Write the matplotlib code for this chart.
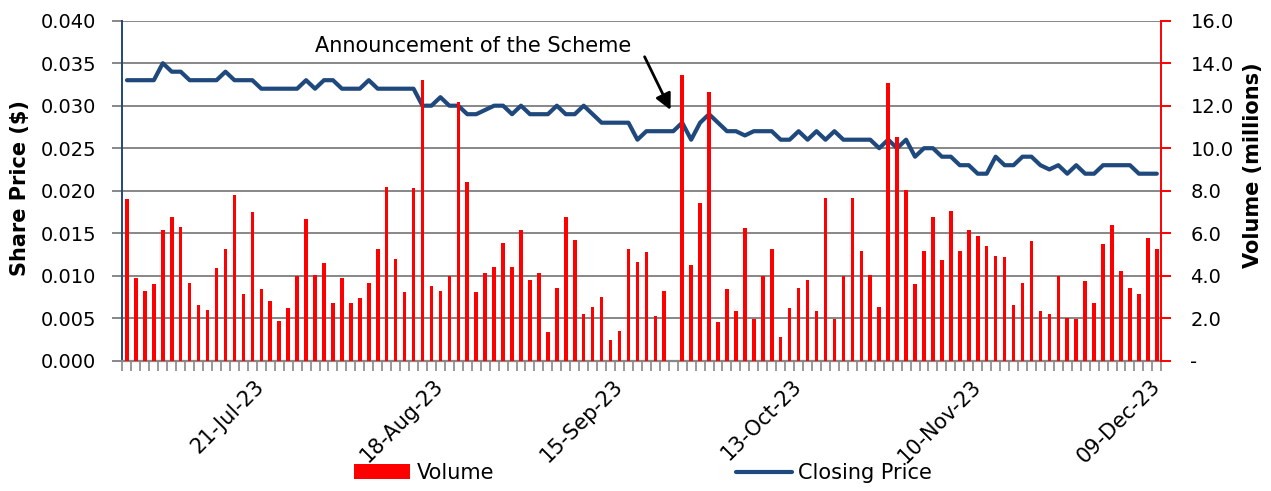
import matplotlib
matplotlib.use("Agg")
import matplotlib.pyplot as plt
from matplotlib.ticker import FuncFormatter, FixedLocator
import numpy as np

# ---- data (trading days, category axis) ----
volume_millions = [
    7.59, 3.90, 3.30, 3.61, 6.15, 6.76, 6.31, 3.68, 2.63, 2.39,
    4.35, 5.26, 7.81, 3.16, 6.98, 3.38, 2.79, 1.88, 2.47, 3.97,
    6.68, 4.05, 4.59, 2.71, 3.90, 2.71, 2.93, 3.68, 5.26, 8.18,
    4.80, 3.24, 8.11, 13.22, 3.52, 3.30, 3.97, 12.18, 8.42, 3.24,
    4.13, 4.43, 5.56, 4.43, 6.15, 3.82, 4.13, 1.35, 3.44, 6.76,
    5.70, 2.18, 2.55, 3.00, 0.99, 1.42, 5.26, 4.65, 5.10, 2.10,
    3.30, 0.00, 13.44, 4.51, 7.43, 12.63, 1.80, 3.38, 2.33, 6.24,
    1.96, 3.97, 5.26, 1.13, 2.47, 3.44, 3.82, 2.33, 7.65, 1.96,
    3.97, 7.65, 5.18, 4.05, 2.55, 13.07, 10.52, 8.04, 3.60, 5.18,
    6.76, 4.73, 7.06, 5.18, 6.15, 5.85, 5.40, 4.95, 4.88, 2.63,
    3.68, 5.63, 2.33, 2.18, 3.97, 2.03, 1.96, 3.76, 2.71, 5.48,
    6.38, 4.21, 3.44, 3.16, 5.77, 5.26,
]

closing_price = [
    0.033, 0.033, 0.033, 0.033, 0.035, 0.034, 0.034, 0.033, 0.033, 0.033,
    0.033, 0.034, 0.033, 0.033, 0.033, 0.032, 0.032, 0.032, 0.032, 0.032,
    0.033, 0.032, 0.033, 0.033, 0.032, 0.032, 0.032, 0.033, 0.032, 0.032,
    0.032, 0.032, 0.032, 0.030, 0.030, 0.031, 0.030, 0.030, 0.029, 0.029,
    0.0295, 0.030, 0.030, 0.029, 0.030, 0.029, 0.029, 0.029, 0.030, 0.029,
    0.029, 0.030, 0.029, 0.028, 0.028, 0.028, 0.028, 0.026, 0.027, 0.027,
    0.027, 0.027, 0.028, 0.026, 0.028, 0.029, 0.028, 0.027, 0.027, 0.0265,
    0.027, 0.027, 0.027, 0.026, 0.026, 0.027, 0.026, 0.027, 0.026, 0.027,
    0.026, 0.026, 0.026, 0.026, 0.025, 0.026, 0.025, 0.026, 0.024, 0.025,
    0.025, 0.024, 0.024, 0.023, 0.023, 0.022, 0.022, 0.024, 0.023, 0.023,
    0.024, 0.024, 0.023, 0.0225, 0.023, 0.022, 0.023, 0.022, 0.022, 0.023,
    0.023, 0.023, 0.023, 0.022, 0.022, 0.022,
]

date_label_index = [15, 35, 55, 75, 95, 115]
date_labels = ["21-Jul-23", "18-Aug-23", "15-Sep-23", "13-Oct-23", "10-Nov-23", "09-Dec-23"]

annotation_text = "Announcement of the Scheme"
announcement_day = 60.7
announcement_price = 0.0295

# ---- styling ----
plt.rcParams["font.family"] = ["DejaVu Sans"]
BLUE = "#1F497D"
RED = "#FF0000"
GRID = "#878787"

W, H = 1271, 491
fig = plt.figure(figsize=(W / 100, H / 100), dpi=100)
L, R, T, B = 122.5, 1161.3, 20.7, 360.7
ax = fig.add_axes([L / W, 1 - B / H, (R - L) / W, (B - T) / H])
ax2 = ax.twinx()

n = len(closing_price)
x = np.arange(n)

ax.plot(x, closing_price, color=BLUE, lw=3.0, solid_joinstyle="round",
        solid_capstyle="round", label="Closing Price", zorder=3)
ax2.bar(x, volume_millions, width=0.4, color=RED, label="Volume", zorder=2)

ax.set_xlim(-0.5, n - 0.5)
ax.set_ylim(0, 0.040)
ax2.set_ylim(0, 16.0)

ax.set_yticks(np.arange(0, 0.0401, 0.005))
ax.yaxis.set_major_formatter(FuncFormatter(lambda v, p: f"{v:.3f}"))
ax2.set_yticks(np.arange(0, 16.01, 2.0))
ax2.yaxis.set_major_formatter(FuncFormatter(lambda v, p: "-" if abs(v) < 1e-9 else f"{v:.1f}"))

ax.grid(axis="y", color=GRID, lw=1.4)
ax.set_axisbelow(True)

# x axis: tick marks at every category boundary, labels every 20 days
ax.xaxis.set_minor_locator(FixedLocator(np.arange(-0.5, n, 1.0)))
ax.set_xticks(date_label_index)
ax.set_xticklabels(date_labels, rotation=45, ha="right", va="center",
                   rotation_mode="anchor", fontsize=15)
ax.tick_params(axis="x", which="major", length=0, pad=16)
ax.tick_params(axis="x", which="minor", length=7, width=1.2, color=GRID)

ax.tick_params(axis="y", which="major", length=7, width=1.4, color=GRID,
               labelsize=14, pad=12)
ax2.tick_params(axis="y", which="major", length=7, width=1.4, color=RED,
                labelsize=14, pad=14)

for s in ["top", "right"]:
    ax.spines[s].set_visible(False)
ax.spines["left"].set_color(BLUE)
ax.spines["left"].set_linewidth(1.4)
ax.spines["bottom"].set_color(GRID)
ax.spines["bottom"].set_linewidth(1.6)
for s in ["left", "top", "bottom"]:
    ax2.spines[s].set_visible(False)
ax2.spines["right"].set_color(RED)
ax2.spines["right"].set_linewidth(1.4)

fig.text(20 / W, 1 - 188 / H, "Share Price ($)", rotation=90, fontsize=15,
         fontweight="bold", ha="center", va="center")
fig.text(1253 / W, 1 - 165 / H, "Volume (millions)", rotation=90, fontsize=15,
         fontweight="bold", ha="center", va="center")

# annotation
ax.annotate("", xy=(announcement_day, announcement_price), xytext=(57.8, 0.03576),
            arrowprops=dict(arrowstyle="-|>", color="black", lw=2.0,
                            mutation_scale=24, shrinkA=0, shrinkB=0), zorder=6)
ax.text(38.6, 0.0370, annotation_text, fontsize=15, ha="center", va="center", zorder=6)

# legend
h1, l1 = ax2.get_legend_handles_labels()
h2, l2 = ax.get_legend_handles_labels()
fig.legend(h1 + h2, l1 + l2, loc="center", bbox_to_anchor=(643 / W, 1 - 473 / H),
           ncol=2, frameon=False, fontsize=15, handlelength=2.7, handleheight=0.7,
           handletextpad=0.3, columnspacing=11.6)

fig.savefig("out.png", dpi=100)
